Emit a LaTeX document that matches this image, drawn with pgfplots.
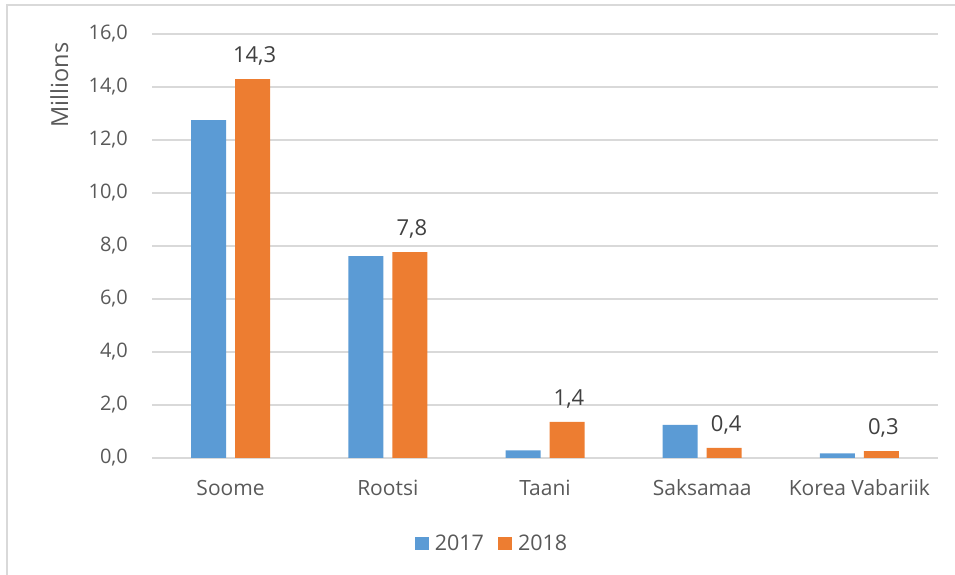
\documentclass[border=0pt]{standalone}
\usepackage{fontspec}
\setmainfont{Open Sans}
\usepackage{pgfplots}
\pgfplotsset{compat=1.18}
\definecolor{cblue}{HTML}{5B9BD5}
\definecolor{corange}{HTML}{ED7D31}
\definecolor{tgray}{HTML}{595959}
\definecolor{ggray}{HTML}{D9D9D9}
\definecolor{dgray}{HTML}{404040}
\begin{document}
\begin{tikzpicture}[x=1pt,y=1pt]
\path[use as bounding box] (0,0) rectangle (955,575);
\draw[ggray, line width=1.5pt] (962,570) -- (7,570) -- (7,-8);
\begin{axis}[
  at={(152pt,117pt)}, anchor=south west,
  scale only axis, width=786pt, height=424pt,
  xmin=-0.5, xmax=4.5, ymin=0, ymax=16,
  ytick={0,2,...,16},
  xtick={0,1,2,3,4},
  xticklabels={Soome,Rootsi,Taani,Saksamaa,Korea Vabariik},
  major tick length=0pt,
  axis line style={draw=none},
  ymajorgrids, grid style={ggray, line width=1.3pt},
  /pgf/number format/assume math mode=true,
  scaled y ticks=false,
  yticklabel={\pgfmathprintnumber[fixed,fixed zerofill,precision=1,use comma]{\tick}},
  yticklabel style={font=\fontsize{20}{22}\selectfont, text=tgray, anchor=east, inner sep=0pt, xshift=-24pt},
  xticklabel style={font=\fontsize{21}{23}\selectfont, text=tgray, anchor=base, inner sep=0pt, yshift=-38pt},
  ylabel={Millions},
  ylabel style={font=\fontsize{23.5}{25}\selectfont, text=tgray, at={(axis description cs:-0.118,0.88)}, anchor=center},
  ybar=9pt, bar width=35pt,
  legend columns=2,
  legend style={draw=none, fill=none, at={(axis description cs:0.4326,-0.2005)}, anchor=center,
    font=\fontsize{21.5}{23}\selectfont, text=tgray,
    /tikz/every odd column/.append style={column sep=4pt},
    /tikz/every even column/.append style={column sep=12pt}},
  legend image code/.code={\fill[#1] (0pt,-6.5pt) rectangle (14pt,6.5pt);},
  clip=false,
]
\addplot[fill=cblue, draw=none] coordinates {(0,12.75) (1,7.62) (2,0.29) (3,1.25) (4,0.17)};
\addlegendentry{2017}
\addplot[fill=corange, draw=none,
  nodes near coords,
  nodes near coords style={font=\fontsize{22}{24}\selectfont, text=dgray, anchor=base, inner sep=0pt, yshift=16.7pt, xshift=2pt,
    /pgf/number format/.cd, fixed, fixed zerofill, precision=1, use comma, assume math mode=true}
  ] coordinates {(0,14.3) (1,7.77) (2,1.36) (3,0.38) (4,0.26)};
\addlegendentry{2018}
\end{axis}
\end{tikzpicture}
\end{document}
